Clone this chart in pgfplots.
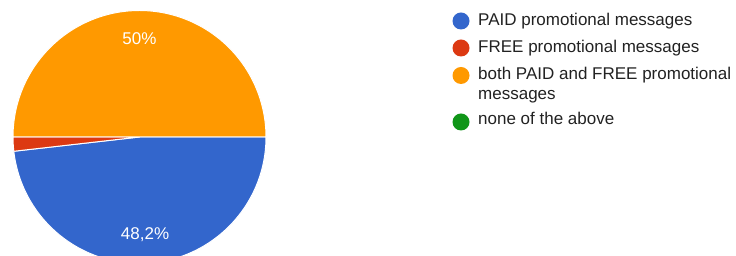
\documentclass[border=0pt]{standalone}
\usepackage{pgfplots}
\pgfplotsset{compat=1.18}
\usepackage{pgfplotstable}
\usepackage{fontspec}
\setmainfont{Liberation Sans}
\definecolor{paid}{HTML}{3366CC}
\definecolor{free}{HTML}{DC3912}
\definecolor{both}{HTML}{FF9900}
\definecolor{none}{HTML}{109618}
\definecolor{legtext}{HTML}{222222}
\pgfplotstableread{
idx value
0 48.2
1 1.8
2 50
3 0
}\piedata
\begin{document}
\pgfplotstablegetelem{0}{value}\of\piedata \edef\vA{\pgfplotsretval}%
\pgfplotstablegetelem{1}{value}\of\piedata \edef\vB{\pgfplotsretval}%
\pgfplotstablegetelem{2}{value}\of\piedata \edef\vC{\pgfplotsretval}%
\pgfmathsetmacro\aA{-3.6*\vA}%
\pgfmathsetmacro\aB{\aA-3.6*\vB}%
\pgfmathsetmacro\aC{\aB-3.6*\vC}%
\pgfmathsetmacro\mA{\aA/2}%
\pgfmathsetmacro\mC{(\aB+\aC)/2}%
\begin{tikzpicture}
\useasboundingbox (0,0) rectangle (736pt,256pt);
\clip (0,0) rectangle (736pt,256pt);
\fill[white] (0,0) rectangle (736pt,256pt);
\begin{axis}[at={(0,0)}, anchor=south west, x=1pt, y=1pt,
  xmin=0, xmax=736, ymin=0, ymax=256, scale only axis, hide axis, clip=false]
\filldraw[fill=paid, draw=white, line width=1pt, line join=round] (axis cs:139.5,119) -- ++(0:126.5pt) arc[start angle=0, end angle=\aA, radius=126.5pt] -- cycle;
\filldraw[fill=free, draw=white, line width=1pt, line join=round] (axis cs:139.5,119) -- ++(\aA:126.5pt) arc[start angle=\aA, end angle=\aB, radius=126.5pt] -- cycle;
\filldraw[fill=both, draw=white, line width=1pt, line join=round] (axis cs:139.5,119) -- ++(\aB:126.5pt) arc[start angle=\aB, end angle=\aC, radius=126.5pt] -- cycle;
\path (axis cs:139.5,119) ++(\mA:98pt) node[text=white, font=\fontsize{17}{20}\selectfont] {48,2\%};
\path (axis cs:139.5,119) ++(\mC:98pt) node[text=white, font=\fontsize{17}{20}\selectfont] {50\%};
% legend
\fill[paid] (axis cs:461,235) circle[radius=8.5pt];
\fill[free] (axis cs:461,208) circle[radius=8.5pt];
\fill[both] (axis cs:461,180.5) circle[radius=8.5pt];
\fill[none] (axis cs:461,134) circle[radius=8.5pt];
\begin{scope}[every node/.style={anchor=base west, inner sep=0pt, text=legtext, font=\fontsize{17}{20}\selectfont}]
\node at (axis cs:478,230.3) {PAID promotional messages};
\node at (axis cs:478,203.3) {FREE promotional messages};
\node at (axis cs:478,176) {both PAID and FREE promotional};
\node at (axis cs:478,156.7) {messages};
\node at (axis cs:478,131) {none of the above};
\end{scope}
\end{axis}
\end{tikzpicture}
\end{document}
